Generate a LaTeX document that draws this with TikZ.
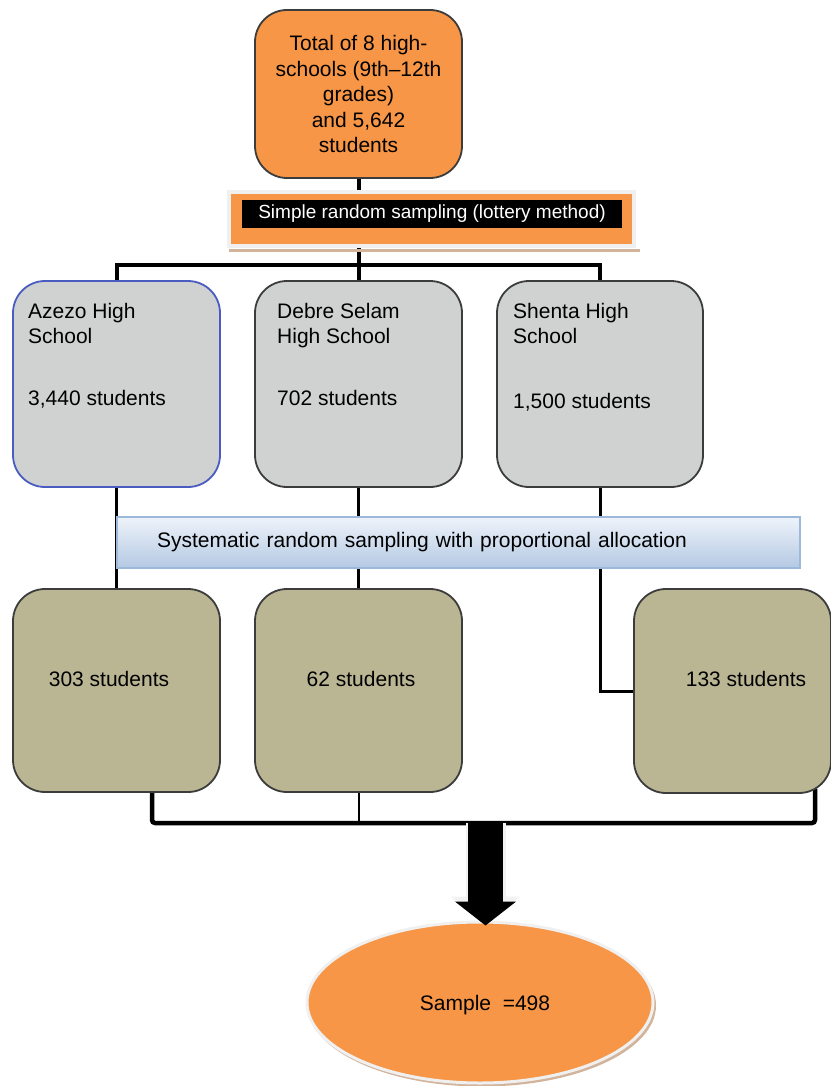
\documentclass[tikz,border=0pt]{standalone}
\usepackage{fontspec}
\setmainfont{Liberation Sans}
\usetikzlibrary{shapes.geometric,arrows.meta,calc}
\definecolor{orng}{HTML}{F79646}
\definecolor{boxgray}{HTML}{D0D2D2}
\definecolor{khaki}{HTML}{BAB693}
\definecolor{edge}{HTML}{3C3C3C}
\definecolor{azblue}{HTML}{4A5CC0}
\definecolor{bltop}{HTML}{EEF3FA}
\definecolor{blbot}{HTML}{B4C9E3}
\definecolor{bledge}{HTML}{9DB9DA}
\definecolor{shadowbr}{HTML}{D2B49C}
\pgfdeclarelayer{bg}
\pgfsetlayers{bg,main}
\begin{document}
\begin{tikzpicture}[x=1pt,y=-1pt,
  every node/.style={font=\fontsize{21}{25.5}\selectfont},
  rbox/.style={draw=edge, line width=1.8pt, rounded corners=32pt, inner sep=0pt},
  txt/.style={inner sep=0pt},
  link/.style={line width=4pt, draw=black},
  mlink/.style={line width=3pt, draw=black},
  bus/.style={line width=4.5pt, draw=black, rounded corners=3pt}]
\useasboundingbox (0,0) rectangle (830,1086);

% top box
\node[rbox, fill=orng, minimum width=207pt, minimum height=168pt, align=center] (top) at (358.5,94)
  {Total of 8 high-\\schools (9th--12th\\grades)\\and 5,642\\students};

% lottery banner
\node[fill=orng, draw=gray!12, line width=4pt, minimum width=405pt, minimum height=54pt, inner sep=0pt] (ban) at (431.5,219) {};
\node[fill=black, text=white, minimum width=380pt, minimum height=28pt, inner sep=0pt,
  font=\fontsize{19}{22}\selectfont] (lot) at (432,214) {Simple random sampling (lottery method)};

% schools
\node[rbox, fill=boxgray, draw=azblue, minimum width=207pt, minimum height=206pt] (a1) at (116.5,384) {};
\node[rbox, fill=boxgray, minimum width=207pt, minimum height=206pt] (a2) at (358.5,384) {};
\node[rbox, fill=boxgray, minimum width=206pt, minimum height=206pt] (a3) at (600,384) {};
\node[txt, anchor=north west, align=left] (a1t) at (28,302.7) {Azezo High\\School};
\node[txt, anchor=base west] (a1n) at (28,405.5) {3,440 students};
\node[txt, anchor=north west, align=left] (a2t) at (277,302.7) {Debre Selam\\High School};
\node[txt, anchor=base west] (a2n) at (277,405.5) {702 students};
\node[txt, anchor=north west, align=left] (a3t) at (513,302.7) {Shenta High\\School};
\node[txt, anchor=base west] (a3n) at (513,408.5) {1,500 students};

% systematic banner
\node[draw=bledge, line width=1.2pt, top color=bltop, bottom color=blbot, minimum width=683pt,
  minimum height=51pt, text width=603pt, inner xsep=40pt, inner ysep=0pt, align=left] (sys) at (458.5,542.5)
  {Systematic random sampling with proportional allocation};

% samples
\node[rbox, fill=khaki, minimum width=207pt, minimum height=203pt] (b1) at (116.5,690.5) {};
\node[rbox, fill=khaki, minimum width=207pt, minimum height=203pt] (b2) at (358.5,690.5) {};
\node[rbox, fill=khaki, minimum width=197pt, minimum height=204pt] (b3) at (732.5,691) {};
\node[txt] (b1t) at (109,679) {303 students};
\node[txt] (b2t) at (361,679) {62 students};
\node[txt] (b3t) at (746,679) {133 students};

% sample ellipse
\node[ellipse, fill=orng, draw=gray!12, line width=3pt, minimum width=346pt, minimum height=161pt, inner sep=0pt] (ell) at (480,1002.5) {};
\node[txt] (ellt) at (485,1005) {Sample\ \ =498};

% connectors
\coordinate (tb) at (358.5,265);
\coordinate (bl) at (152,823);
\coordinate (br) at (815,823);
\coordinate (am) at (485.5,823);
\begin{pgfonlayer}{bg}
  \draw[link] (top.south) -- (tb);
  \draw[link] (a1.north) |- (tb) -| (a3.north);
  \draw[link] (tb) -- (a2.north);
  \draw[mlink] (a1.south) -- (b1.north);
  \draw[mlink] (a2.south) -- (b2.north);
  \draw[mlink] (a3.south) |- (b3.west);
  \draw[bus] ([xshift=35.5pt]b1.south) -- (bl) -- (br) -- ([xshift=82.5pt,yshift=5pt]b3.south);
  \draw[line width=2pt] (b2.south) -- (b2.south |- bl);
  \fill[shadowbr] ($(ban.south west)+(2,1)$) rectangle ($(ban.south east)+(4,4)$);
  \fill[shadowbr] ($(ell.center)+(2,3)$) ellipse [x radius=174pt, y radius=81pt];
\end{pgfonlayer}

% big arrow
\draw[line width=40pt, gray!10, -{Triangle[length=28pt,width=68pt]}] (am) -- ([xshift=5.5pt,yshift=-4pt]ell.north);
\draw[line width=35pt, black, -{Triangle[length=24pt,width=60pt]}] (am) -- ([xshift=5.5pt,yshift=-5pt]ell.north);
\end{tikzpicture}
\end{document}
